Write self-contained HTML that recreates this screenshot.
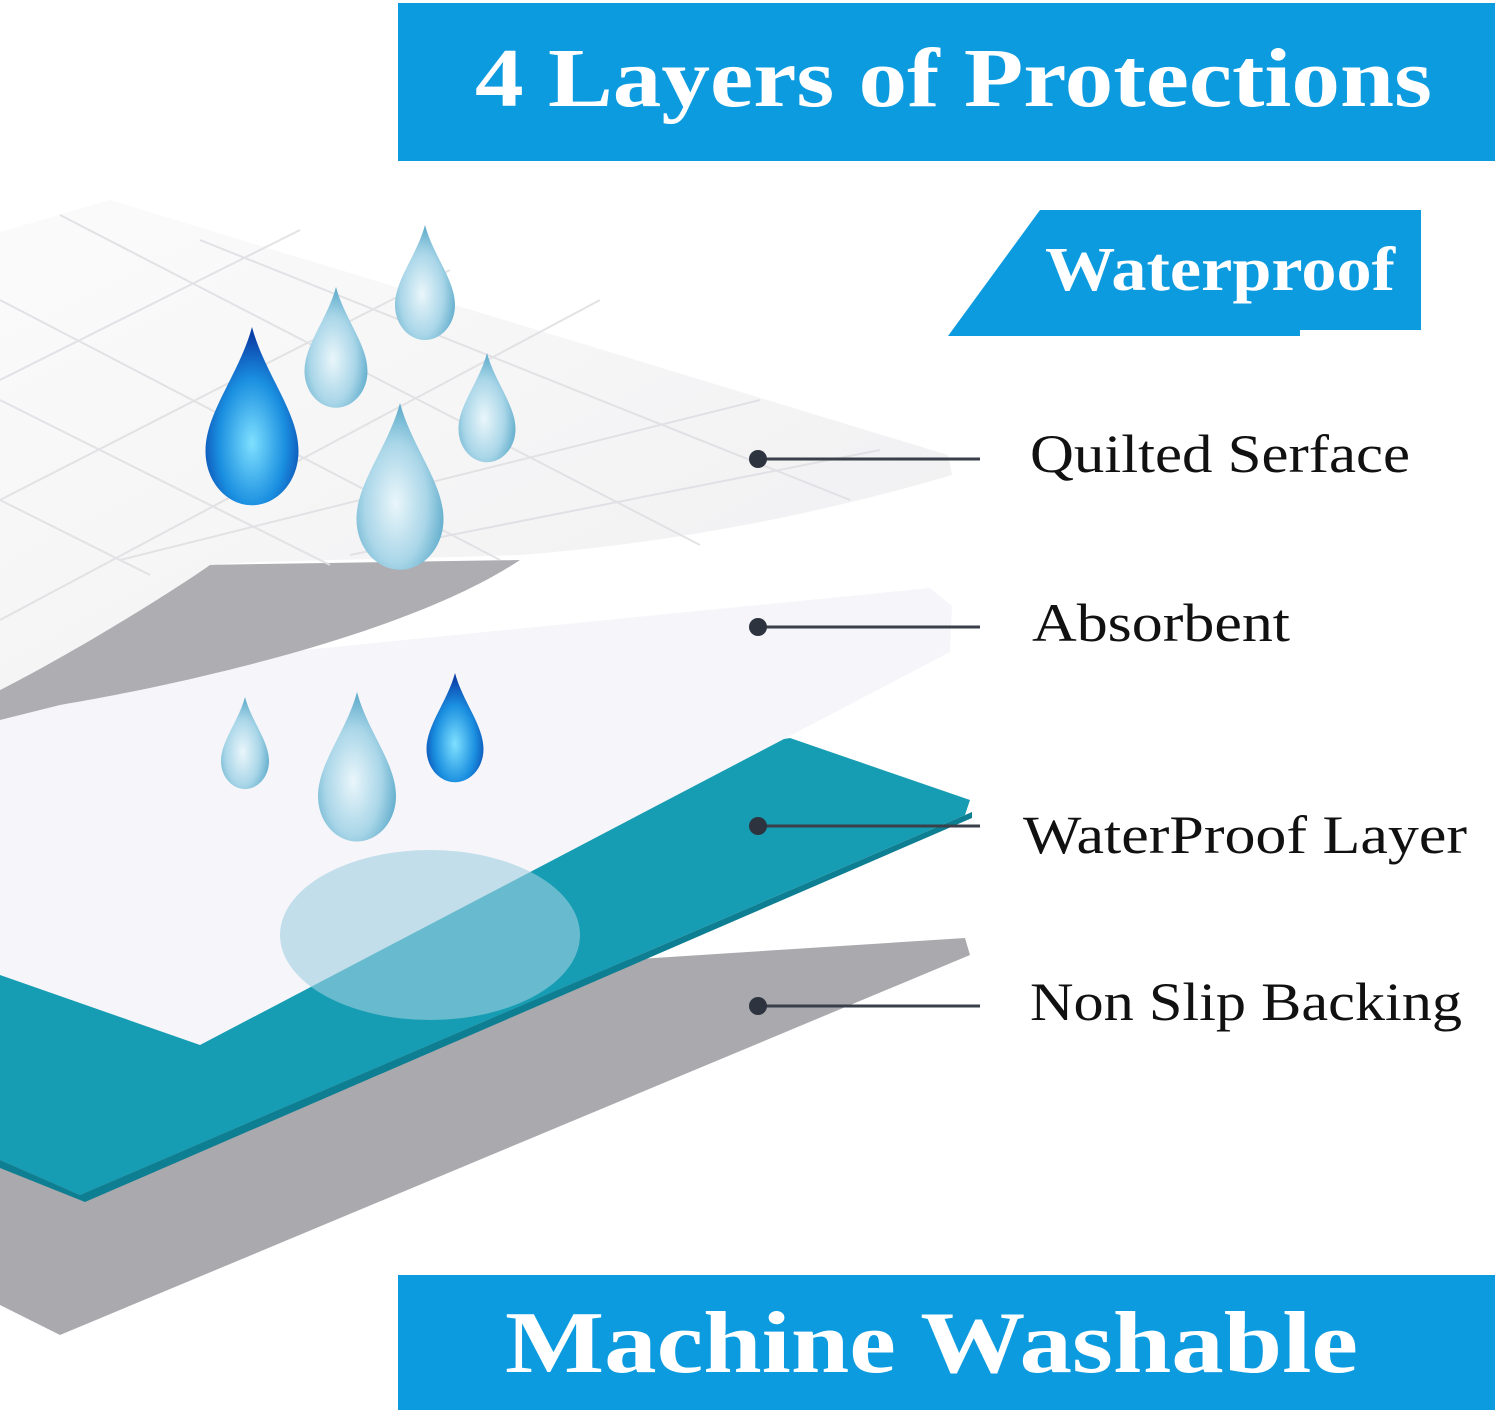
<!DOCTYPE html>
<html><head><meta charset="utf-8">
<style>
html,body{margin:0;padding:0;background:#fff;}
svg{display:block;}
</style></head>
<body>
<svg width="1500" height="1414" viewBox="0 0 1500 1414" xmlns="http://www.w3.org/2000/svg">
<defs>
<radialGradient id="drop" cx="0.45" cy="0.6" r="0.6">
<stop offset="0" stop-color="#eaf6fb"/><stop offset="0.6" stop-color="#a9d6e8"/><stop offset="1" stop-color="#5aa9c9"/>
</radialGradient>
<radialGradient id="blue" cx="0.5" cy="0.65" r="0.6">
<stop offset="0" stop-color="#7fe0ff"/><stop offset="0.6" stop-color="#1a8fe0"/><stop offset="1" stop-color="#0a3fa8"/>
</radialGradient>
<linearGradient id="wh" x1="0" y1="0" x2="1" y2="1">
<stop offset="0" stop-color="#fbfbfb"/><stop offset="1" stop-color="#efeff1"/>
</linearGradient>
<path id="d" d="M0,-60 C8,-30 30,-5 30,20 C30,40 16,55 0,55 C-16,55 -30,40 -30,20 C-30,-5 -8,-30 0,-60Z"/>
</defs>
<rect width="1500" height="1414" fill="#fff"/>

<!-- banners -->
<rect x="398" y="3" width="1097" height="158" fill="#0d9be0"/>
<text x="475" y="106" font-family="Liberation Serif,serif" font-weight="bold" font-size="84" fill="#fff" textLength="957" lengthAdjust="spacingAndGlyphs">4 Layers of Protections</text>
<polygon points="1040,210 1421,210 1421,330 1300,330 1300,336 948,336" fill="#0d9be0"/>
<text x="1045" y="290" font-family="Liberation Serif,serif" font-weight="bold" font-size="62" fill="#fff" textLength="350" lengthAdjust="spacingAndGlyphs">Waterproof</text>
<rect x="398" y="1275" width="1097" height="135" fill="#0d9be0"/>
<text x="505" y="1372" font-family="Liberation Serif,serif" font-weight="bold" font-size="88" fill="#fff" textLength="853" lengthAdjust="spacingAndGlyphs">Machine Washable</text>

<!-- grey backing -->
<polygon points="0,1000 965,938 970,955 60,1335 0,1305" fill="#a9a9ae"/>
<!-- teal -->
<polygon points="0,870 790,738 970,800 965,815 80,1195 0,1160" fill="#179db3"/>
<polygon points="0,1160 80,1195 972,812 972,818 85,1202 0,1168" fill="#0e7f92"/>
<!-- absorbent -->
<polygon points="0,680 930,588 952,606 950,652 200,1045 0,975" fill="#f6f6fa"/>
<ellipse cx="430" cy="935" rx="150" ry="85" fill="#9fcfe0" opacity="0.6"/>
<!-- underside grey of quilted -->
<path d="M0,690 C60,660 150,600 200,565 L520,560 C400,640 150,690 60,705 L0,720Z" fill="#adadb2"/>
<!-- quilted top -->
<path d="M0,232 L110,200 L948,455 L952,475 C800,520 650,545 520,555 C380,560 260,560 210,565 C160,600 60,660 0,690Z" fill="url(#wh)"/>
<g stroke="#e0e0e4" stroke-width="2" fill="none" opacity="0.9">
<path d="M0,300 L500,560 M0,400 L330,565 M0,500 L150,575 M60,215 L700,545 M200,240 L850,500"/>
<path d="M0,620 L600,300 M0,500 L450,270 M120,560 L760,400 M0,380 L300,230 M350,555 L880,450"/>
</g>

<!-- drops -->
<g>
<use href="#d" transform="translate(425,285) scale(1.0)" fill="url(#drop)"/>
<use href="#d" transform="translate(336,350) scale(1.05)" fill="url(#drop)"/>
<use href="#d" transform="translate(487,410) scale(0.95)" fill="url(#drop)"/>
<use href="#d" transform="translate(400,490) scale(1.45)" fill="url(#drop)"/>
<use href="#d" transform="translate(252,420) scale(1.55)" fill="url(#blue)"/>
<use href="#d" transform="translate(245,745) scale(0.8)" fill="url(#drop)"/>
<use href="#d" transform="translate(357,770) scale(1.3)" fill="url(#drop)"/>
<use href="#d" transform="translate(455,730) scale(0.95)" fill="url(#blue)"/>
</g>

<!-- leaders -->
<g stroke="#3a3f4a" stroke-width="3">
<line x1="758" y1="459" x2="980" y2="459"/>
<line x1="758" y1="627" x2="980" y2="627"/>
<line x1="758" y1="826" x2="980" y2="826"/>
<line x1="758" y1="1006" x2="980" y2="1006"/>
</g>
<g fill="#2e3340">
<circle cx="758" cy="459" r="9"/><circle cx="758" cy="627" r="9"/>
<circle cx="758" cy="826" r="9"/><circle cx="758" cy="1006" r="9"/>
</g>
<g font-family="Liberation Serif,serif" font-size="54" fill="#111" lengthAdjust="spacingAndGlyphs">
<text x="1030" y="472" textLength="380" lengthAdjust="spacingAndGlyphs">Quilted Serface</text>
<text x="1032" y="641" textLength="258" lengthAdjust="spacingAndGlyphs">Absorbent</text>
<text x="1023" y="853" textLength="444" lengthAdjust="spacingAndGlyphs">WaterProof Layer</text>
<text x="1030" y="1020" textLength="432" lengthAdjust="spacingAndGlyphs">Non Slip Backing</text>
</g>
</svg>
</body></html>
